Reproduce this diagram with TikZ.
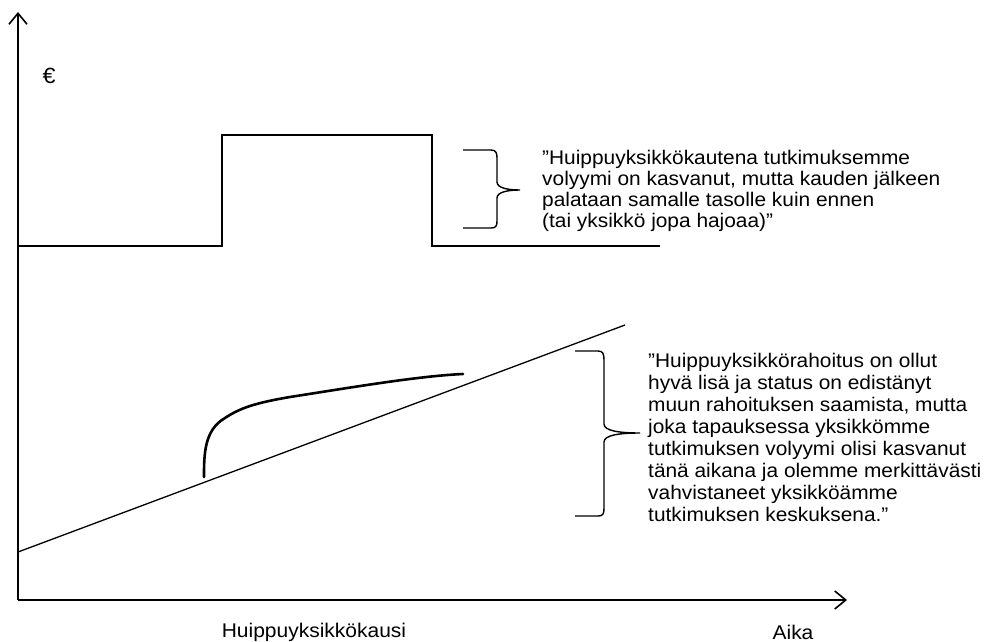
\documentclass[tikz,border=0pt]{standalone}
\usepackage{fontspec}
\setmainfont[FakeStretch=1.06]{Liberation Sans}
\usetikzlibrary{arrows.meta}
\tikzset{
  axis/.style={line width=1.6pt, -{Straight Barb[length=11pt,width=18pt,line width=1.6pt]}},
  level/.style={line width=1.6pt},
  trend/.style={line width=1.3pt},
  growth/.style={line width=2.6pt, line cap=round},
  bracket/.style={line width=1.4pt},
  quote/.style={anchor=north west, inner sep=0pt, align=left},
  lbl/.style={inner sep=0pt, font=\fontsize{19.8}{21.5}\selectfont}
}
\begin{document}
\begin{tikzpicture}[x=1pt,y=-1pt]
\useasboundingbox (0,0) rectangle (988,642);

% axes
\coordinate (o) at (18,600);
\coordinate (ytop) at (18,12);
\coordinate (xend) at (847,600);
\draw[axis] (o) -- (ytop);
\draw[axis] (o) -- (xend);

\node[lbl, font=\fontsize{22}{24}\selectfont] (euro) at (49,76) {€};
\node[lbl, anchor=base] (kausi) at (314,637) {Huippuyksikkökausi};
\node[lbl, anchor=base] (aika) at (793,639) {Aika};

% step
\draw[level] (18,246) -- (222,246) -- (222,135) -- (432,135) -- (432,246) -- (660,246);

% trend line and curve
\draw[trend] (18,552) -- (625,325);
\draw[growth] (204,477) .. controls (204,455) and (204,430) .. (225,418)
  .. controls (240,408) and (255,403) .. (290,397)
  .. controls (360,386) and (420,376) .. (463,374);

% braces
\draw[bracket] (463,150) -- (491,150) .. controls (496,150) and (497,153) .. (497,158)
  -- (497,182) .. controls (497,188) and (508,190) .. (520,190)
  .. controls (508,190) and (497,192) .. (497,198)
  -- (497,221) .. controls (497,226) and (496,228) .. (491,228) -- (463,228);
\draw[bracket] (575,351) -- (598,351) .. controls (603,351) and (604,354) .. (604,360)
  -- (604,424) .. controls (604,431) and (620,433) .. (640,433)
  .. controls (620,433) and (604,435) .. (604,442)
  -- (604,508) .. controls (604,514) and (603,516) .. (598,516) -- (575,516);

\node[quote, font=\fontsize{19.7}{21}\selectfont] (q1) at (542,150.5) {”Huippuyksikkökautena tutkimuksemme\\volyymi on kasvanut, mutta kauden jälkeen\\palataan samalle tasolle kuin ennen\\(tai yksikkö jopa hajoaa)”};
\node[quote, font=\fontsize{19.7}{21.9}\selectfont] (q2) at (648,353.5) {”Huippuyksikkörahoitus on ollut\\hyvä lisä ja status on edistänyt\\muun rahoituksen saamista, mutta\\joka tapauksessa yksikkömme\\tutkimuksen volyymi olisi kasvanut\\tänä aikana ja olemme merkittävästi\\vahvistaneet yksikköämme\\tutkimuksen keskuksena.”};
\end{tikzpicture}
\end{document}
